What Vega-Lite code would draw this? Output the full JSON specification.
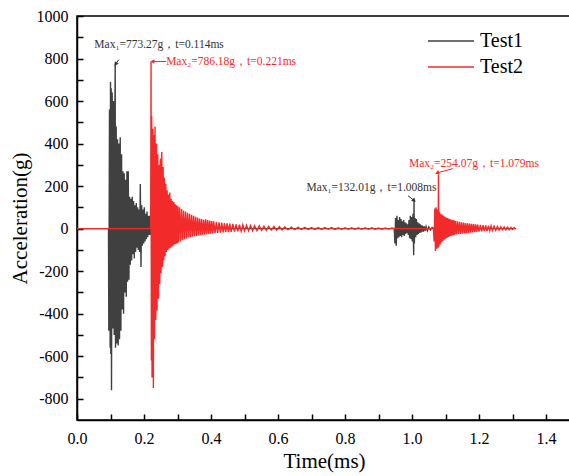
{
"$schema": "https://vega.github.io/schema/vega-lite/v6.json",
"width": 494,
"height": 404,
"autosize": {"type": "none"},
"padding": {"left": 77, "top": 16, "right": 0, "bottom": 56},
"background": "white",
"config": {
 "view": {"stroke": "black", "strokeWidth": 1.5},
 "font": "Liberation Serif",
 "axis": {"labelFont": "Liberation Serif", "titleFont": "Liberation Serif", "labelFontSize": 16, "titleFontSize": 21,
  "titleFontWeight": "normal", "labelColor": "black", "titleColor": "black", "ticks": true, "tickColor": "black",
  "tickWidth": 1.5, "domainColor": "black", "domainWidth": 1.5, "grid": false, "labelFlush": false, "labelOverlap": false, "zindex": 1},
 "axisX": {"tickSize": -6, "labelPadding": 16, "titlePadding": 4},
 "axisY": {"tickSize": -6, "labelPadding": 15, "titlePadding": 6}
},
"datasets": {
"sig": [
{"s":"Test1","t":0,"a":0},{"s":"Test1","t":0.094,"a":0},
{"s":"Test1","t":0.095,"a":-480},{"s":"Test1","t":0.097,"a":560},{"s":"Test1","t":0.099,"a":-560},{"s":"Test1","t":0.1,"a":690},{"s":"Test1","t":0.101,"a":-590},{"s":"Test1","t":0.102,"a":660},{"s":"Test1","t":0.103,"a":-760},{"s":"Test1","t":0.105,"a":640},{"s":"Test1","t":0.107,"a":-470},{"s":"Test1","t":0.109,"a":600},{"s":"Test1","t":0.111,"a":-500},{"s":"Test1","t":0.113,"a":520},{"s":"Test1","t":0.114,"a":773},{"s":"Test1","t":0.115,"a":-560},{"s":"Test1","t":0.117,"a":480},{"s":"Test1","t":0.119,"a":-540},{"s":"Test1","t":0.121,"a":420},{"s":"Test1","t":0.123,"a":-550},{"s":"Test1","t":0.125,"a":400},{"s":"Test1","t":0.127,"a":-520},{"s":"Test1","t":0.129,"a":430},{"s":"Test1","t":0.131,"a":-480},{"s":"Test1","t":0.133,"a":350},{"s":"Test1","t":0.135,"a":-380},{"s":"Test1","t":0.137,"a":270},{"s":"Test1","t":0.139,"a":-400},{"s":"Test1","t":0.141,"a":260},{"s":"Test1","t":0.143,"a":-300},{"s":"Test1","t":0.145,"a":230},{"s":"Test1","t":0.147,"a":-320},{"s":"Test1","t":0.149,"a":270},{"s":"Test1","t":0.151,"a":-250},{"s":"Test1","t":0.153,"a":270},{"s":"Test1","t":0.155,"a":-240},{"s":"Test1","t":0.157,"a":150},{"s":"Test1","t":0.159,"a":-170},{"s":"Test1","t":0.161,"a":140},{"s":"Test1","t":0.163,"a":-150},{"s":"Test1","t":0.165,"a":150},{"s":"Test1","t":0.167,"a":-120},{"s":"Test1","t":0.169,"a":130},{"s":"Test1","t":0.171,"a":-140},{"s":"Test1","t":0.173,"a":110},{"s":"Test1","t":0.175,"a":-110},{"s":"Test1","t":0.177,"a":120},{"s":"Test1","t":0.179,"a":-90},{"s":"Test1","t":0.181,"a":100},{"s":"Test1","t":0.183,"a":-100},{"s":"Test1","t":0.185,"a":90},{"s":"Test1","t":0.187,"a":-110},{"s":"Test1","t":0.189,"a":210},{"s":"Test1","t":0.191,"a":-180},{"s":"Test1","t":0.193,"a":110},{"s":"Test1","t":0.195,"a":-80},{"s":"Test1","t":0.197,"a":90},{"s":"Test1","t":0.199,"a":-70},{"s":"Test1","t":0.201,"a":100},{"s":"Test1","t":0.203,"a":-60},{"s":"Test1","t":0.205,"a":70},{"s":"Test1","t":0.207,"a":-50},{"s":"Test1","t":0.209,"a":80},{"s":"Test1","t":0.211,"a":-40},{"s":"Test1","t":0.213,"a":60},{"s":"Test1","t":0.215,"a":-30},{"s":"Test1","t":0.217,"a":60},{"s":"Test1","t":0.219,"a":-30},{"s":"Test1","t":0.221,"a":0},
{"s":"Test1","t":0.947,"a":0},
{"s":"Test1","t":0.949,"a":-70},{"s":"Test1","t":0.951,"a":50},{"s":"Test1","t":0.953,"a":-80},{"s":"Test1","t":0.955,"a":60},{"s":"Test1","t":0.957,"a":-45},{"s":"Test1","t":0.959,"a":40},{"s":"Test1","t":0.961,"a":-40},{"s":"Test1","t":0.963,"a":55},{"s":"Test1","t":0.965,"a":-35},{"s":"Test1","t":0.967,"a":45},{"s":"Test1","t":0.969,"a":-40},{"s":"Test1","t":0.971,"a":35},{"s":"Test1","t":0.973,"a":-30},{"s":"Test1","t":0.975,"a":40},{"s":"Test1","t":0.977,"a":-35},{"s":"Test1","t":0.979,"a":30},{"s":"Test1","t":0.981,"a":-25},{"s":"Test1","t":0.983,"a":25},{"s":"Test1","t":0.985,"a":-20},{"s":"Test1","t":0.987,"a":20},{"s":"Test1","t":0.989,"a":-30},{"s":"Test1","t":0.991,"a":40},{"s":"Test1","t":0.993,"a":-45},{"s":"Test1","t":0.995,"a":60},{"s":"Test1","t":0.997,"a":-50},{"s":"Test1","t":0.999,"a":55},{"s":"Test1","t":1.001,"a":-60},{"s":"Test1","t":1.003,"a":70},{"s":"Test1","t":1.005,"a":-125},{"s":"Test1","t":1.006,"a":132},{"s":"Test1","t":1.007,"a":-70},{"s":"Test1","t":1.009,"a":50},{"s":"Test1","t":1.011,"a":-40},{"s":"Test1","t":1.013,"a":45},{"s":"Test1","t":1.015,"a":-30},{"s":"Test1","t":1.017,"a":30},{"s":"Test1","t":1.019,"a":-25},{"s":"Test1","t":1.021,"a":25},{"s":"Test1","t":1.023,"a":-20},{"s":"Test1","t":1.025,"a":20},{"s":"Test1","t":1.027,"a":-18},{"s":"Test1","t":1.03,"a":15},{"s":"Test1","t":1.033,"a":-15},{"s":"Test1","t":1.036,"a":12},{"s":"Test1","t":1.039,"a":-12},{"s":"Test1","t":1.042,"a":10},{"s":"Test1","t":1.046,"a":-10},{"s":"Test1","t":1.05,"a":8},{"s":"Test1","t":1.055,"a":-6},{"s":"Test1","t":1.06,"a":5},{"s":"Test1","t":1.065,"a":0},{"s":"Test1","t":1.31,"a":0},
{"s":"Test2","t":0,"a":0},{"s":"Test2","t":0.22,"a":0},
{"s":"Test2","t":0.221,"a":786},{"s":"Test2","t":0.222,"a":-620},{"s":"Test2","t":0.223,"a":530},{"s":"Test2","t":0.224,"a":-700},{"s":"Test2","t":0.225,"a":460},{"s":"Test2","t":0.226,"a":-600},{"s":"Test2","t":0.227,"a":470},{"s":"Test2","t":0.228,"a":-750},{"s":"Test2","t":0.229,"a":440},{"s":"Test2","t":0.231,"a":-520},{"s":"Test2","t":0.233,"a":480},{"s":"Test2","t":0.235,"a":-430},{"s":"Test2","t":0.237,"a":400},{"s":"Test2","t":0.239,"a":-385},{"s":"Test2","t":0.241,"a":350},{"s":"Test2","t":0.243,"a":-330},{"s":"Test2","t":0.245,"a":300},{"s":"Test2","t":0.247,"a":-260},{"s":"Test2","t":0.249,"a":330},{"s":"Test2","t":0.251,"a":-210},{"s":"Test2","t":0.253,"a":360},{"s":"Test2","t":0.255,"a":-180},{"s":"Test2","t":0.257,"a":290},{"s":"Test2","t":0.259,"a":-150},{"s":"Test2","t":0.261,"a":240},{"s":"Test2","t":0.263,"a":-130},{"s":"Test2","t":0.265,"a":210},{"s":"Test2","t":0.267,"a":-110},{"s":"Test2","t":0.269,"a":180},{"s":"Test2","t":0.271,"a":-100},{"s":"Test2","t":0.273,"a":160},{"s":"Test2","t":0.275,"a":-95},{"s":"Test2","t":0.277,"a":170},{"s":"Test2","t":0.279,"a":-90},{"s":"Test2","t":0.281,"a":140},{"s":"Test2","t":0.283,"a":-85},{"s":"Test2","t":0.285,"a":130},{"s":"Test2","t":0.287,"a":-80},{"s":"Test2","t":0.289,"a":125},{"s":"Test2","t":0.291,"a":-75},{"s":"Test2","t":0.293,"a":115},{"s":"Test2","t":0.295,"a":-72},{"s":"Test2","t":0.297,"a":110},{"s":"Test2","t":0.299,"a":-70},{"s":"Test2","t":0.301,"a":105},{"s":"Test2","t":0.303,"a":-65},{"s":"Test2","t":0.306,"a":100},{"s":"Test2","t":0.309,"a":-60},{"s":"Test2","t":0.312,"a":92},{"s":"Test2","t":0.315,"a":-55},{"s":"Test2","t":0.318,"a":85},{"s":"Test2","t":0.321,"a":-50},{"s":"Test2","t":0.324,"a":80},{"s":"Test2","t":0.327,"a":-46},{"s":"Test2","t":0.33,"a":75},{"s":"Test2","t":0.333,"a":-42},{"s":"Test2","t":0.336,"a":70},{"s":"Test2","t":0.339,"a":-40},{"s":"Test2","t":0.342,"a":65},{"s":"Test2","t":0.345,"a":-38},{"s":"Test2","t":0.348,"a":60},{"s":"Test2","t":0.351,"a":-36},{"s":"Test2","t":0.354,"a":56},{"s":"Test2","t":0.357,"a":-34},{"s":"Test2","t":0.36,"a":52},{"s":"Test2","t":0.363,"a":-32},{"s":"Test2","t":0.366,"a":48},{"s":"Test2","t":0.369,"a":-30},{"s":"Test2","t":0.372,"a":45},{"s":"Test2","t":0.375,"a":-29},{"s":"Test2","t":0.378,"a":42},{"s":"Test2","t":0.381,"a":-28},{"s":"Test2","t":0.384,"a":44},{"s":"Test2","t":0.387,"a":-26},{"s":"Test2","t":0.39,"a":40},{"s":"Test2","t":0.393,"a":-25},{"s":"Test2","t":0.396,"a":38},{"s":"Test2","t":0.399,"a":-24},{"s":"Test2","t":0.402,"a":36},{"s":"Test2","t":0.405,"a":-23},{"s":"Test2","t":0.408,"a":34},{"s":"Test2","t":0.412,"a":-21},{"s":"Test2","t":0.416,"a":32},{"s":"Test2","t":0.42,"a":-20},{"s":"Test2","t":0.424,"a":30},{"s":"Test2","t":0.428,"a":-19},{"s":"Test2","t":0.432,"a":28},{"s":"Test2","t":0.436,"a":-18},{"s":"Test2","t":0.44,"a":26},{"s":"Test2","t":0.444,"a":-17},{"s":"Test2","t":0.448,"a":25},{"s":"Test2","t":0.452,"a":-16},{"s":"Test2","t":0.456,"a":24},{"s":"Test2","t":0.46,"a":-15},{"s":"Test2","t":0.465,"a":22},{"s":"Test2","t":0.47,"a":-14},{"s":"Test2","t":0.475,"a":20},{"s":"Test2","t":0.48,"a":-13},{"s":"Test2","t":0.485,"a":19},{"s":"Test2","t":0.49,"a":-12},{"s":"Test2","t":0.495,"a":18},{"s":"Test2","t":0.5,"a":-11},{"s":"Test2","t":0.506,"a":16},{"s":"Test2","t":0.512,"a":-10},{"s":"Test2","t":0.518,"a":15},{"s":"Test2","t":0.524,"a":-10},{"s":"Test2","t":0.53,"a":14},{"s":"Test2","t":0.537,"a":-9},{"s":"Test2","t":0.544,"a":13},{"s":"Test2","t":0.551,"a":-8},{"s":"Test2","t":0.558,"a":12},{"s":"Test2","t":0.565,"a":-8},{"s":"Test2","t":0.572,"a":11},{"s":"Test2","t":0.58,"a":-7},{"s":"Test2","t":0.588,"a":10},{"s":"Test2","t":0.596,"a":-7},{"s":"Test2","t":0.604,"a":9},{"s":"Test2","t":0.612,"a":-6},{"s":"Test2","t":0.62,"a":8},
{"s":"Test2","t":0.63,"a":-5},{"s":"Test2","t":0.64,"a":7},{"s":"Test2","t":0.65,"a":-5},{"s":"Test2","t":0.66,"a":6},{"s":"Test2","t":0.67,"a":-4},{"s":"Test2","t":0.68,"a":6},{"s":"Test2","t":0.69,"a":-4},{"s":"Test2","t":0.7,"a":5},{"s":"Test2","t":0.71,"a":-4},{"s":"Test2","t":0.72,"a":5},{"s":"Test2","t":0.73,"a":-4},{"s":"Test2","t":0.74,"a":5},{"s":"Test2","t":0.75,"a":-3},{"s":"Test2","t":0.76,"a":5},{"s":"Test2","t":0.77,"a":-4},{"s":"Test2","t":0.78,"a":4},{"s":"Test2","t":0.79,"a":-3},{"s":"Test2","t":0.8,"a":4},{"s":"Test2","t":0.81,"a":-3},{"s":"Test2","t":0.82,"a":4},{"s":"Test2","t":0.83,"a":-3},{"s":"Test2","t":0.84,"a":4},{"s":"Test2","t":0.85,"a":-3},{"s":"Test2","t":0.86,"a":4},{"s":"Test2","t":0.87,"a":-3},{"s":"Test2","t":0.88,"a":4},{"s":"Test2","t":0.89,"a":-3},{"s":"Test2","t":0.9,"a":3},{"s":"Test2","t":0.91,"a":-3},{"s":"Test2","t":0.92,"a":3},{"s":"Test2","t":0.93,"a":-2},{"s":"Test2","t":0.94,"a":3},{"s":"Test2","t":0.95,"a":0},{"s":"Test2","t":1.064,"a":0},
{"s":"Test2","t":1.066,"a":-60},{"s":"Test2","t":1.068,"a":95},{"s":"Test2","t":1.07,"a":-105},{"s":"Test2","t":1.072,"a":100},{"s":"Test2","t":1.074,"a":-95},{"s":"Test2","t":1.076,"a":90},{"s":"Test2","t":1.078,"a":-90},{"s":"Test2","t":1.079,"a":254},{"s":"Test2","t":1.08,"a":-85},{"s":"Test2","t":1.082,"a":80},{"s":"Test2","t":1.084,"a":-75},{"s":"Test2","t":1.086,"a":70},{"s":"Test2","t":1.088,"a":-65},{"s":"Test2","t":1.09,"a":65},{"s":"Test2","t":1.092,"a":-58},{"s":"Test2","t":1.094,"a":60},{"s":"Test2","t":1.096,"a":-52},{"s":"Test2","t":1.098,"a":56},{"s":"Test2","t":1.1,"a":-48},{"s":"Test2","t":1.102,"a":52},{"s":"Test2","t":1.104,"a":-44},{"s":"Test2","t":1.106,"a":50},{"s":"Test2","t":1.108,"a":-40},{"s":"Test2","t":1.11,"a":46},{"s":"Test2","t":1.112,"a":-37},{"s":"Test2","t":1.114,"a":44},{"s":"Test2","t":1.116,"a":-34},{"s":"Test2","t":1.118,"a":42},{"s":"Test2","t":1.12,"a":-32},{"s":"Test2","t":1.122,"a":40},{"s":"Test2","t":1.124,"a":-30},{"s":"Test2","t":1.126,"a":38},{"s":"Test2","t":1.128,"a":-29},{"s":"Test2","t":1.13,"a":36},{"s":"Test2","t":1.133,"a":-27},{"s":"Test2","t":1.136,"a":34},{"s":"Test2","t":1.139,"a":-26},{"s":"Test2","t":1.142,"a":32},{"s":"Test2","t":1.145,"a":-25},{"s":"Test2","t":1.148,"a":30},{"s":"Test2","t":1.151,"a":-24},{"s":"Test2","t":1.154,"a":28},{"s":"Test2","t":1.157,"a":-23},{"s":"Test2","t":1.16,"a":26},{"s":"Test2","t":1.163,"a":-22},{"s":"Test2","t":1.166,"a":25},{"s":"Test2","t":1.169,"a":-20},{"s":"Test2","t":1.172,"a":24},{"s":"Test2","t":1.175,"a":-19},{"s":"Test2","t":1.178,"a":22},{"s":"Test2","t":1.181,"a":-18},{"s":"Test2","t":1.184,"a":21},{"s":"Test2","t":1.187,"a":-16},{"s":"Test2","t":1.19,"a":20},{"s":"Test2","t":1.193,"a":-15},{"s":"Test2","t":1.196,"a":19},{"s":"Test2","t":1.2,"a":-14},{"s":"Test2","t":1.204,"a":18},{"s":"Test2","t":1.208,"a":-13},{"s":"Test2","t":1.212,"a":16},{"s":"Test2","t":1.216,"a":-12},{"s":"Test2","t":1.22,"a":15},{"s":"Test2","t":1.224,"a":-11},{"s":"Test2","t":1.228,"a":14},{"s":"Test2","t":1.232,"a":-10},{"s":"Test2","t":1.236,"a":13},{"s":"Test2","t":1.24,"a":-9},{"s":"Test2","t":1.245,"a":12},{"s":"Test2","t":1.25,"a":-8},{"s":"Test2","t":1.255,"a":10},{"s":"Test2","t":1.26,"a":-7},{"s":"Test2","t":1.265,"a":9},{"s":"Test2","t":1.27,"a":-6},{"s":"Test2","t":1.275,"a":8},{"s":"Test2","t":1.28,"a":-6},{"s":"Test2","t":1.285,"a":7},{"s":"Test2","t":1.29,"a":-5},{"s":"Test2","t":1.295,"a":6},{"s":"Test2","t":1.3,"a":-4},{"s":"Test2","t":1.305,"a":5},{"s":"Test2","t":1.308,"a":0}
],
"ann": [
{"s":"Test1","t":0.245,"a":865,"label":"Max₁=773.27g，t=0.114ms"},
{"s":"Test2","t":0.46,"a":786,"label":"Max₂=786.18g，t=0.221ms"},
{"s":"Test1","t":0.879,"a":193,"label":"Max₁=132.01g，t=1.008ms"},
{"s":"Test2","t":1.185,"a":306,"label":"Max₂=254.07g，t=1.079ms"}
],
"arr": [
{"s":"Test1","t":0.125,"a":795,"t2":0.1164,"a2":776},
{"s":"Test2","t":0.266,"a":786,"t2":0.227,"a2":786},
{"s":"Test1","t":0.988,"a":155,"t2":1.005,"a2":134},
{"s":"Test2","t":1.122,"a":282,"t2":1.077,"a2":263}
],
"tips": [
{"s":"Test1","t":0.1164,"a":776,"ang":215},
{"s":"Test2","t":0.227,"a":786,"ang":270},
{"s":"Test1","t":1.005,"a":134,"ang":135},
{"s":"Test2","t":1.077,"a":263,"ang":250}
]
},
"encoding": {
"x": {"field": "t", "type": "quantitative", "title": "Time(ms)",
 "scale": {"domain": [0, 1.4746], "nice": false, "zero": false},
 "axis": {"values": [0,0.1,0.2,0.3,0.4,0.5,0.6,0.7,0.8,0.9,1.0,1.1,1.2,1.3,1.4],
  "labelExpr": "round(datum.value*10)%2===0 ? format(datum.value,'.1f') : ''"}},
"y": {"field": "a", "type": "quantitative", "title": "Acceleration(g)",
 "scale": {"domain": [-900, 1000], "nice": false},
 "axis": {"values": [-800,-700,-600,-500,-400,-300,-200,-100,0,100,200,300,400,500,600,700,800,900,1000],
  "labelExpr": "datum.value%200===0 ? datum.value : ''"}}
},
"layer": [
{
"data": {"name": "sig"},
"mark": {"type": "line", "strokeWidth": 1.4},
"encoding": {
"color": {"field": "s", "type": "nominal",
 "scale": {"domain": ["Test1", "Test2"], "range": ["#404040", "#f22a2a"]},
 "legend": {"orient": "none", "legendX": 364, "legendY": 15, "title": null, "symbolType": "M-4.6,0H4.6",
  "symbolSize": 100, "symbolStrokeWidth": 1.5, "labelFont": "Liberation Serif", "labelFontSize": 20,
  "labelColor": "black", "labelOffset": 19, "rowPadding": 6}}
}
},
{
"data": {"name": "ann"},
"mark": {"type": "text", "font": "Liberation Serif", "fontSize": 11.5, "align": "center", "baseline": "middle"},
"encoding": {
"text": {"field": "label"},
"color": {"condition": {"test": "datum.s==='Test1'", "value": "#333333"}, "value": "#f22a2a"}
}
},
{
"data": {"name": "arr"},
"mark": {"type": "rule", "strokeWidth": 1},
"encoding": {
"x2": {"field": "t2"},
"y2": {"field": "a2"},
"color": {"condition": {"test": "datum.s==='Test1'", "value": "#333333"}, "value": "#f22a2a"}
}
},
{
"data": {"name": "tips"},
"mark": {"type": "point", "shape": "triangle", "filled": true, "size": 22, "opacity": 1},
"encoding": {
"angle": {"field": "ang", "type": "quantitative", "scale": null},
"color": {"condition": {"test": "datum.s==='Test1'", "value": "#333333"}, "value": "#f22a2a"}
}
}
]
}
